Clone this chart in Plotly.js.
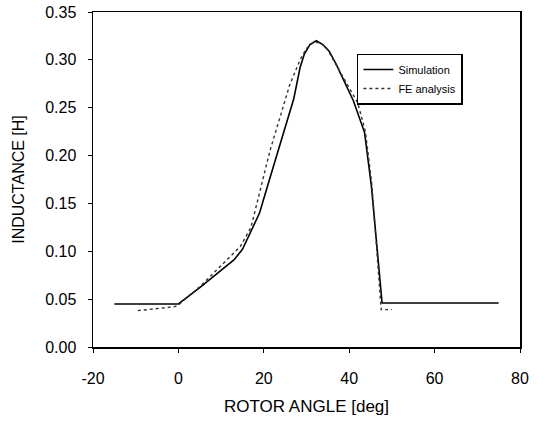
<!DOCTYPE html>
<html><head><meta charset="utf-8">
<script src="https://cdn.plot.ly/plotly-3.0.1.min.js"></script>
<style>html,body{margin:0;padding:0;background:#fff}#chart{width:543px;height:424px}</style>
</head><body><div id="chart"></div>
<script>
const simAngle = [-15, 0, 5, 10, 13, 15, 19, 21, 23, 27, 28.5, 29.5, 30.8, 32.3, 33.8, 35.3, 37, 41, 43.6, 45.2, 47.7, 75];
const simL = [0.045, 0.045, 0.062, 0.080, 0.091, 0.102, 0.140, 0.170, 0.199, 0.259, 0.292, 0.306, 0.316, 0.320, 0.316, 0.309, 0.295, 0.257, 0.224, 0.168, 0.046, 0.046];
const feAngle = [-9.5, -5, -1, 0, 5, 10, 14.5, 17, 19, 21.5, 24, 26, 28.5, 30, 31.5, 33, 34.5, 38.5, 42, 43.8, 45.3, 47.5, 50];
const feL = [0.038, 0.040, 0.042, 0.044, 0.063, 0.085, 0.105, 0.125, 0.161, 0.206, 0.243, 0.273, 0.300, 0.312, 0.318, 0.318, 0.314, 0.283, 0.255, 0.225, 0.170, 0.039, 0.039];
const xTicks = [-20, 0, 20, 40, 60, 80];
const yTicks = [0.00, 0.05, 0.10, 0.15, 0.20, 0.25, 0.30, 0.35];

const font = 'Liberation Sans, Arial, sans-serif';
const traces = [
  {x: simAngle, y: simL, name: 'Simulation', mode: 'lines', line: {color: '#000', width: 1.6}},
  {x: feAngle, y: feL, name: 'FE analysis', mode: 'lines', line: {color: '#333', width: 1.4, dash: 'dot'}}
];
const layout = {
  width: 543, height: 424,
  margin: {l: 93, r: 23, t: 12, b: 77},
  paper_bgcolor: '#fff', plot_bgcolor: '#fff',
  font: {family: font, size: 16, color: '#000'},
  showlegend: true,
  legend: {x: 0.618, y: 0.876, xanchor: 'left', yanchor: 'top', bgcolor: '#fff',
           bordercolor: '#000', borderwidth: 1.5, font: {size: 11, family: font}, itemwidth: 30,
           tracegroupgap: 0},
  xaxis: {range: [-20, 80], tickvals: xTicks, ticktext: xTicks.map(String),
          showgrid: false, zeroline: false, showline: true, linecolor: '#000', linewidth: 1.5,
          mirror: true, ticks: 'outside', ticklen: 4, tickcolor: '#000', ticklabelstandoff: 12,
          tickfont: {size: 16},
          title: {text: 'ROTOR ANGLE [deg]', font: {size: 17}, standoff: 14}},
  yaxis: {range: [0, 0.35], tickvals: yTicks, ticktext: yTicks.map(v => v.toFixed(2)),
          showgrid: false, zeroline: false, showline: true, linecolor: '#000', linewidth: 1.5,
          mirror: true, ticks: 'outside', ticklen: 4, tickcolor: '#000', ticklabelstandoff: 8,
          tickfont: {size: 16},
          title: {text: 'INDUCTANCE [H]', font: {size: 16}, standoff: 16}}
};
Plotly.newPlot('chart', traces, layout, {displayModeBar: false, staticPlot: true});
</script></body></html>
